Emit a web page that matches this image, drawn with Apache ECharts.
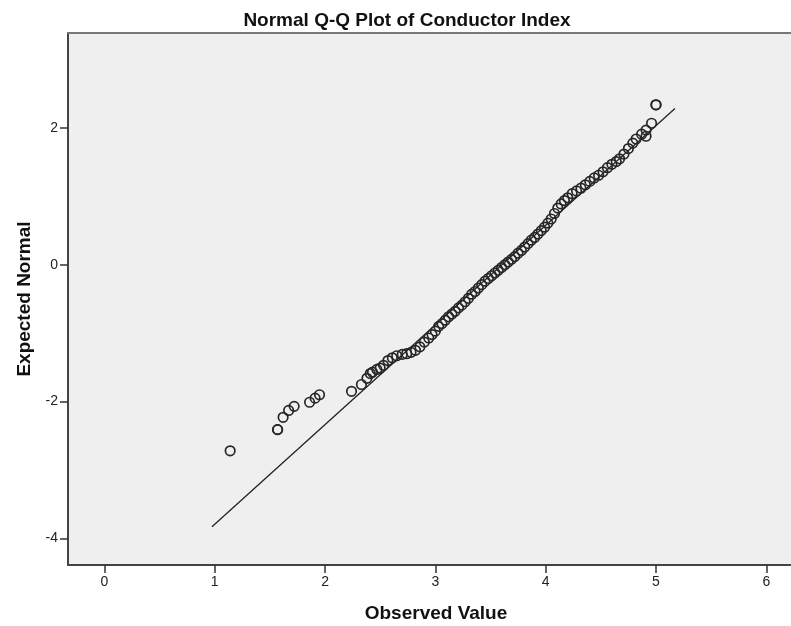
<!DOCTYPE html>
<html>
<head>
<meta charset="utf-8">
<script src="https://cdn.jsdelivr.net/npm/echarts@6/dist/echarts.min.js"></script>
<style>
html,body{margin:0;padding:0;background:#fff;}
#chart{width:791px;height:626px;}
</style>
</head>
<body>
<div id="chart"></div>
<script>
const observed = [
  1.14, 1.57, 1.57, 1.62, 1.67, 1.72, 1.86, 1.91, 1.95, 2.24,
  2.33, 2.38, 2.41, 2.43, 2.47, 2.50, 2.53, 2.57, 2.61, 2.65,
  2.70, 2.74, 2.78, 2.82, 2.86, 2.90, 2.94, 2.97, 3.00, 3.03,
  3.06, 3.09, 3.12, 3.15, 3.18, 3.21, 3.24, 3.27, 3.30, 3.33,
  3.36, 3.39, 3.42, 3.45, 3.48, 3.51, 3.54, 3.57, 3.60, 3.63,
  3.66, 3.69, 3.72, 3.75, 3.78, 3.81, 3.84, 3.87, 3.90, 3.93,
  3.96, 3.99, 4.02, 4.05, 4.08, 4.11, 4.14, 4.17, 4.20, 4.24,
  4.28, 4.32, 4.36, 4.40, 4.44, 4.48, 4.52, 4.56, 4.60, 4.64,
  4.67, 4.71, 4.75, 4.79, 4.82, 4.87, 4.91, 4.91, 4.96, 5.00,
  5.00
];
const expected = [
  -2.72, -2.41, -2.41, -2.23, -2.13, -2.07, -2.01, -1.95, -1.90, -1.85,
  -1.75, -1.66, -1.59, -1.57, -1.53, -1.51, -1.47, -1.40, -1.36, -1.33,
  -1.31, -1.30, -1.28, -1.25, -1.20, -1.13, -1.07, -1.02, -0.97, -0.90,
  -0.86, -0.81, -0.76, -0.72, -0.68, -0.63, -0.59, -0.54, -0.49, -0.43,
  -0.39, -0.34, -0.29, -0.24, -0.20, -0.16, -0.12, -0.08, -0.04, 0.00,
  0.04, 0.08, 0.12, 0.17, 0.21, 0.26, 0.31, 0.36, 0.40, 0.45,
  0.50, 0.55, 0.61, 0.67, 0.75, 0.83, 0.89, 0.94, 0.98, 1.04,
  1.08, 1.12, 1.17, 1.22, 1.27, 1.31, 1.36, 1.42, 1.47, 1.51,
  1.55, 1.62, 1.70, 1.78, 1.84, 1.91, 1.88, 1.97, 2.07, 2.34,
  2.34
];
// Reference line end points
const lineX = [0.975, 5.172];
const lineY = [-3.83, 2.287];
// Tick labels
const xTicks = [0, 1, 2, 3, 4, 5, 6];
const yTicks = [-4, -2, 0, 2];

const FONT = '"Liberation Sans", Arial, sans-serif';
const xMin = -0.33, xMax = 6.224, yMin = -4.39, yMax = 3.39;

const points = observed.map((v, i) => [v, expected[i]]);
const linePts = lineX.map((v, i) => [v, lineY[i]]);

const chart = echarts.init(document.getElementById('chart'), null, {renderer: 'canvas'});
chart.setOption({
  animation: false,
  backgroundColor: '#ffffff',
  title: {
    text: 'Normal Q-Q Plot of Conductor Index',
    left: 402, top: 6, textAlign: 'center',
    textStyle: {fontFamily: FONT, fontSize: 19, fontWeight: 'bold', color: '#111'}
  },
  grid: {
    left: 68, top: 33, right: 0, bottom: 61,
    show: true, backgroundColor: '#efefef', borderWidth: 0,
    containLabel: false, outerBoundsMode: 'none'
  },
  xAxis: [{
    type: 'value', min: xMin, max: xMax, position: 'bottom',
    name: 'Observed Value', nameLocation: 'middle', nameGap: 39,
    nameTextStyle: {fontFamily: FONT, fontSize: 19, fontWeight: 'bold', color: '#111', padding: [0, 0, 0, 13]},
    splitLine: {show: false},
    axisLine: {show: true, onZero: false, lineStyle: {color: '#444', width: 2}},
    axisTick: {show: true, length: 8, customValues: xTicks, lineStyle: {color: '#333', width: 1.5}},
    axisLabel: {customValues: xTicks, margin: 10, fontFamily: FONT, fontSize: 14, color: '#222'}
  }, {
    type: 'value', min: xMin, max: xMax, position: 'top',
    splitLine: {show: false},
    axisLine: {show: true, onZero: false, lineStyle: {color: '#777', width: 2}},
    axisTick: {show: false}, axisLabel: {show: false}
  }],
  yAxis: {
    type: 'value', min: yMin, max: yMax,
    name: 'Expected Normal', nameLocation: 'middle', nameGap: 34,
    nameTextStyle: {fontFamily: FONT, fontSize: 19, fontWeight: 'bold', color: '#111'},
    splitLine: {show: false},
    axisLine: {show: true, onZero: false, lineStyle: {color: '#444', width: 2}},
    axisTick: {show: true, length: 8, customValues: yTicks, lineStyle: {color: '#333', width: 1.5}},
    axisLabel: {customValues: yTicks, margin: 10, fontFamily: FONT, fontSize: 14, color: '#222'}
  },
  series: [{
    type: 'line', data: linePts, symbol: 'none', silent: true,
    lineStyle: {color: '#222', width: 1.3}, z: 2
  }, {
    type: 'scatter', data: points, symbol: 'circle', symbolSize: 9.5,
    itemStyle: {color: 'rgba(0,0,0,0)', borderColor: '#262626', borderWidth: 1.7, opacity: 1},
    z: 3
  }]
});
</script>
</body>
</html>
